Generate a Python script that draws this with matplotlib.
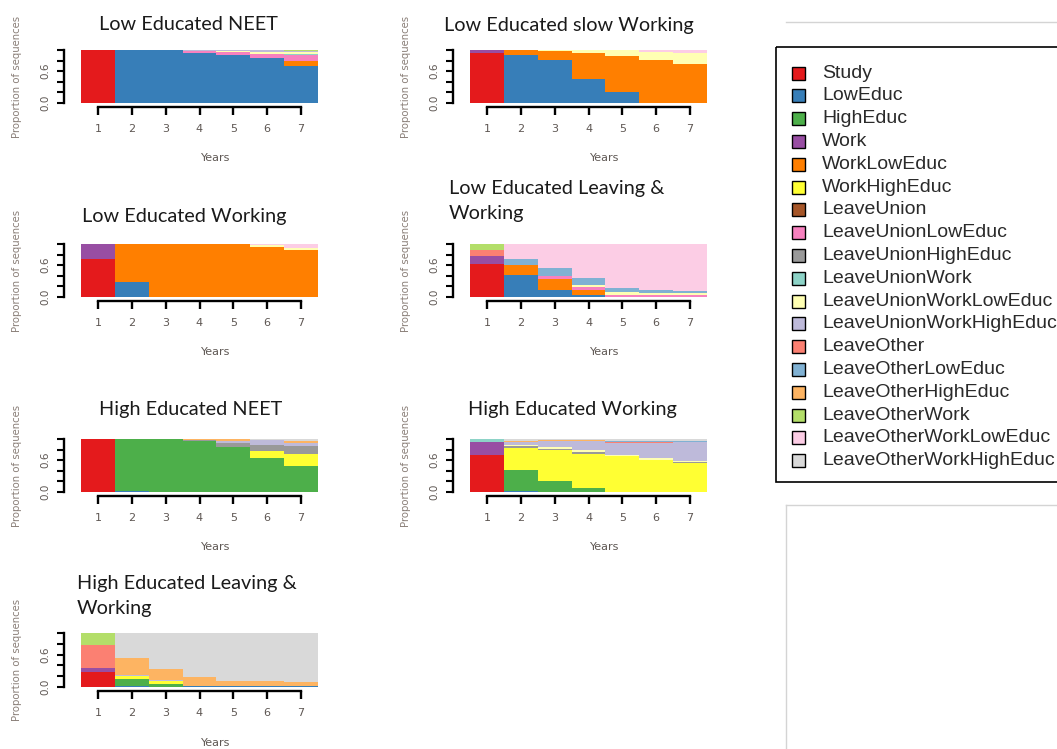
import matplotlib
matplotlib.use("Agg")
import matplotlib.pyplot as plt
from matplotlib.patches import Rectangle

# ── States and colours (TraMineR Set1/Set3 style) ─────────────────────────────
states = ["Study", "LowEduc", "HighEduc", "Work", "WorkLowEduc", "WorkHighEduc",
          "LeaveUnion", "LeaveUnionLowEduc", "LeaveUnionHighEduc", "LeaveUnionWork",
          "LeaveUnionWorkLowEduc", "LeaveUnionWorkHighEduc", "LeaveOther",
          "LeaveOtherLowEduc", "LeaveOtherHighEduc", "LeaveOtherWork",
          "LeaveOtherWorkLowEduc", "LeaveOtherWorkHighEduc"]
colors = ["#E41A1C", "#377EB8", "#4DAF4A", "#984EA3", "#FF7F00", "#FFFF33",
          "#A65628", "#F781BF", "#999999", "#8DD3C7", "#FFFFB3", "#BEBADA",
          "#FB8072", "#80B1D3", "#FDB462", "#B3DE69", "#FCCDE5", "#D9D9D9"]

years = [1, 2, 3, 4, 5, 6, 7]

# state distributions per cluster (proportion of sequences in each year)
low_neet = {
    "Study":                  [1.00, 0, 0, 0, 0, 0, 0],
    "LowEduc":                [0, 1.00, 1.00, 0.94, 0.91, 0.85, 0.70],
    "WorkLowEduc":            [0, 0, 0, 0, 0, 0, 0.10],
    "LeaveUnionLowEduc":      [0, 0, 0, 0.04, 0.05, 0.08, 0.10],
    "LeaveUnionWork":         [0, 0, 0, 0, 0, 0, 0.02],
    "LeaveUnionWorkLowEduc":  [0, 0, 0, 0.01, 0.02, 0.03, 0.04],
    "LeaveUnionWorkHighEduc": [0, 0, 0, 0.01, 0.02, 0.04, 0.02],
    "LeaveOtherWork":         [0, 0, 0, 0, 0, 0, 0.02],
}
low_slow = {
    "Study":                 [0.94, 0, 0, 0, 0, 0, 0],
    "LowEduc":               [0, 0.91, 0.82, 0.46, 0.20, 0, 0],
    "Work":                  [0.06, 0, 0, 0, 0, 0, 0],
    "WorkLowEduc":           [0, 0.09, 0.16, 0.48, 0.68, 0.82, 0.73],
    "LeaveUnionWorkLowEduc": [0, 0, 0.02, 0.06, 0.12, 0.15, 0.22],
    "LeaveOtherWorkLowEduc": [0, 0, 0, 0, 0, 0.03, 0.05],
}
low_work = {
    "Study":                 [0.72, 0, 0, 0, 0, 0, 0],
    "LowEduc":               [0, 0.29, 0, 0, 0, 0, 0],
    "Work":                  [0.28, 0, 0, 0, 0, 0, 0],
    "WorkLowEduc":           [0, 0.71, 1.00, 1.00, 1.00, 0.94, 0.88],
    "LeaveUnionWorkLowEduc": [0, 0, 0, 0, 0, 0.04, 0.05],
    "LeaveOtherWorkLowEduc": [0, 0, 0, 0, 0, 0.02, 0.07],
}
low_leave = {
    "Study":                 [0.63, 0, 0, 0, 0, 0, 0],
    "LowEduc":               [0, 0.42, 0.13, 0.04, 0, 0, 0],
    "Work":                  [0.15, 0, 0, 0, 0, 0, 0],
    "WorkLowEduc":           [0, 0.18, 0.21, 0.09, 0, 0, 0],
    "LeaveUnionLowEduc":     [0, 0, 0.05, 0.06, 0.04, 0.04, 0.04],
    "LeaveUnionWorkLowEduc": [0, 0, 0, 0.04, 0.05, 0.04, 0.04],
    "LeaveOther":            [0.10, 0, 0, 0, 0, 0, 0],
    "LeaveOtherLowEduc":     [0, 0.12, 0.15, 0.12, 0.08, 0.05, 0.03],
    "LeaveOtherWork":        [0.12, 0, 0, 0, 0, 0, 0],
    "LeaveOtherWorkLowEduc": [0, 0.28, 0.46, 0.65, 0.83, 0.87, 0.89],
}
high_neet = {
    "Study":                  [1.00, 0, 0, 0, 0, 0, 0],
    "LowEduc":                [0, 0.01, 0, 0, 0, 0, 0],
    "HighEduc":               [0, 0.99, 1.00, 0.96, 0.84, 0.64, 0.49],
    "WorkHighEduc":           [0, 0, 0, 0, 0, 0.14, 0.23],
    "LeaveUnionHighEduc":     [0, 0, 0, 0.02, 0.08, 0.10, 0.15],
    "LeaveUnionWorkHighEduc": [0, 0, 0, 0, 0.04, 0.10, 0.06],
    "LeaveOtherHighEduc":     [0, 0, 0, 0.02, 0.04, 0, 0.03],
    "LeaveOtherWorkHighEduc": [0, 0, 0, 0, 0, 0.02, 0.04],
}
high_work = {
    "Study":                  [0.70, 0, 0, 0, 0, 0, 0],
    "LowEduc":                [0, 0.01, 0, 0, 0, 0, 0],
    "HighEduc":               [0, 0.41, 0.21, 0.08, 0, 0, 0],
    "Work":                   [0.24, 0, 0, 0, 0, 0, 0],
    "WorkHighEduc":           [0, 0.41, 0.58, 0.64, 0.67, 0.61, 0.545],
    "LeaveUnionHighEduc":     [0, 0.03, 0.03, 0.04, 0, 0, 0.02],
    "LeaveUnionWork":         [0.06, 0, 0, 0, 0, 0, 0],
    "LeaveUnionWorkLowEduc":  [0, 0.02, 0.02, 0.03, 0.03, 0.03, 0.02],
    "LeaveUnionWorkHighEduc": [0, 0.06, 0.12, 0.17, 0.22, 0.28, 0.35],
    "LeaveOther":             [0, 0, 0, 0, 0.02, 0.03, 0],
    "LeaveOtherLowEduc":      [0, 0, 0, 0, 0.02, 0.02, 0.02],
    "LeaveOtherHighEduc":     [0, 0.02, 0.02, 0.02, 0, 0, 0],
    "LeaveOtherWorkHighEduc": [0, 0.04, 0.02, 0.02, 0.04, 0.03, 0.045],
}
high_leave = {
    "Study":                  [0.27, 0, 0, 0, 0, 0, 0],
    "LowEduc":                [0, 0.01, 0, 0.01, 0.01, 0.01, 0.01],
    "HighEduc":               [0, 0.13, 0.06, 0, 0, 0, 0],
    "Work":                   [0.075, 0, 0, 0, 0, 0, 0],
    "WorkHighEduc":           [0, 0.06, 0.05, 0, 0, 0, 0],
    "LeaveUnionWorkHighEduc": [0, 0.02, 0.02, 0, 0, 0, 0],
    "LeaveOther":             [0.425, 0, 0, 0, 0, 0, 0],
    "LeaveOtherHighEduc":     [0, 0.32, 0.20, 0.17, 0.11, 0.11, 0.08],
    "LeaveOtherWork":         [0.23, 0, 0, 0, 0, 0, 0],
    "LeaveOtherWorkHighEduc": [0, 0.46, 0.67, 0.82, 0.88, 0.88, 0.91],
}

# ── Figure layout (pixel boxes: left, top, right, bottom) ─────────────────────
W, H = 1057, 749
fig = plt.figure(figsize=(W / 100, H / 100), dpi=100)
fig.patch.set_facecolor("white")

col_x = [(81, 318), (470, 707)]
row_y = [(50, 103), (244, 297), (439, 492), (633, 687)]

panels = [
    (low_neet,   0, 0, "Low Educated NEET",               (188, 25),  "center"),
    (low_slow,   1, 0, "Low Educated slow Working",       (569, 25),  "center"),
    (low_work,   0, 1, "Low Educated Working",            (184, 217), "center"),
    (low_leave,  1, 1, "Low Educated Leaving &\nWorking", (449, 201), "left"),
    (high_neet,  0, 2, "High Educated NEET",              (191, 410), "center"),
    (high_work,  1, 2, "High Educated Working",           (572, 410), "center"),
    (high_leave, 0, 3, "High Educated Leaving &\nWorking", (77, 596), "left"),
]

title_font = "Lato"
tick_col = "#5e5753"

for dist, c, r, title, tpos, tha in panels:
    x0, x1 = col_x[c]
    y0, y1 = row_y[r]
    ax = fig.add_axes([x0 / W, 1 - y1 / H, (x1 - x0) / W, (y1 - y0) / H])

    bottom = [0.0] * len(years)
    for st, col in zip(states, colors):
        if st not in dist:
            continue
        vals = dist[st]
        ax.bar(years, vals, bottom=bottom, width=1.0, color=col, linewidth=0)
        bottom = [b + v for b, v in zip(bottom, vals)]

    ax.set_xlim(0.5, 7.5)
    ax.set_ylim(0, 1)
    ax.patch.set_alpha(0)
    for s in ["top", "right"]:
        ax.spines[s].set_visible(False)
    ax.spines["left"].set_position(("outward", 12))
    ax.spines["left"].set_bounds(0, 1)
    ax.spines["bottom"].set_position(("outward", 3))
    ax.spines["bottom"].set_bounds(1, 7)
    for s in ["left", "bottom"]:
        ax.spines[s].set_linewidth(1.7)

    ax.set_xticks(years)
    ax.set_xticklabels([str(y) for y in years], fontsize=8, color=tick_col)
    ax.set_yticks([0, 0.2, 0.4, 0.6, 0.8, 1.0])
    ax.set_yticklabels(["0.0", "", "", "0.6", "", ""], fontsize=7.5,
                       color=tick_col, rotation=90, va="center")
    ax.tick_params(axis="x", length=6, width=1.7, pad=6)
    ax.tick_params(axis="y", length=5, width=1.5, pad=5)

    ax.set_ylabel("Proportion of sequences", fontsize=7.3, color="#8a7f78")
    ax.yaxis.set_label_coords(-0.25, 0.5)
    ax.set_xlabel("Years", fontsize=8, color=tick_col)
    ax.xaxis.set_label_coords(0.57, -0.95)

    fig.text(tpos[0] / W, 1 - tpos[1] / H, title, ha=tha, va="center",
             fontsize=14.3, family=title_font, color="#1a1a1a", linespacing=1.6)

# ── Legend and page decorations on a pixel-space overlay ──────────────────────
ov = fig.add_axes([0, 0, 1, 1])
ov.set_xlim(0, W)
ov.set_ylim(H, 0)
ov.axis("off")
ov.patch.set_alpha(0)

ov.plot([786, W], [22, 22], color="#d4d4d4", lw=1)
ov.plot([786, W], [505, 505], color="#d4d4d4", lw=1)
ov.plot([786, 786], [505, H], color="#d4d4d4", lw=1)

ov.add_patch(Rectangle((776, 47), 320, 435, fill=False, edgecolor="black", lw=1.2))
for i, (st, col) in enumerate(zip(states, colors)):
    yy = 73 + i * 22.8
    ov.add_patch(Rectangle((792, yy - 6.5), 13, 13, facecolor=col,
                           edgecolor="black", lw=1))
    ov.text(822, yy, st, ha="left", va="center", fontsize=14,
            family="Liberation Sans", color="#2a2a2a")

fig.savefig("out.png", dpi=100)
